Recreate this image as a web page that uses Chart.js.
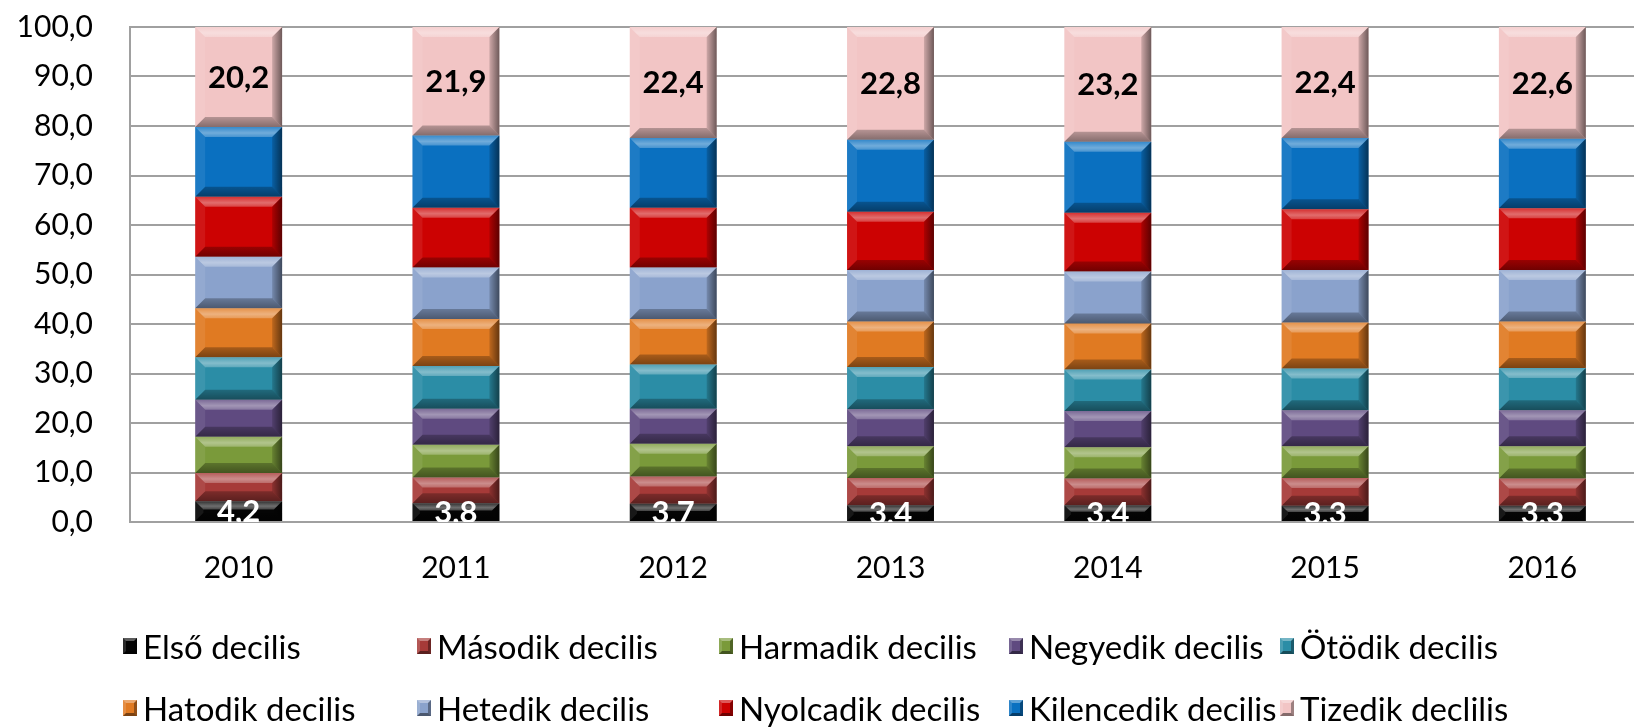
<!DOCTYPE html>
<html>
<head>
<meta charset="utf-8">
<script src="https://cdn.jsdelivr.net/npm/chart.js@4"></script>
<style>
  html, body { margin: 0; padding: 0; background: #fff; overflow: hidden; width: 1634px; height: 727px; }
  #wrap { position: absolute; left: 0; top: 0; width: 1651px; height: 727px; }
  #legend { position: absolute; left: 0; top: 0; width: 1634px; height: 727px; pointer-events: none; }
  .item { position: absolute; display: flex; align-items: center; height: 40px; font-family: Lato, sans-serif; font-size: 33px; color: #000; white-space: nowrap; }
  .mk { width: 14px; height: 16px; margin-right: 6px; box-sizing: border-box; border-style: solid; border-width: 3px 3px 3px 3px; }
</style>
</head>
<body>
<div id="wrap"><canvas id="c" width="1651" height="727"></canvas></div>
<div id="legend"></div>
<script>
const years = ['2010', '2011', '2012', '2013', '2014', '2015', '2016'];
const decileNames = ['Első decilis', 'Második decilis', 'Harmadik decilis', 'Negyedik decilis', 'Ötödik decilis',
                     'Hatodik decilis', 'Hetedik decilis', 'Nyolcadik decilis', 'Kilencedik decilis', 'Tizedik declilis'];
const yTicks = [0, 10, 20, 30, 40, 50, 60, 70, 80, 90, 100];

const d1  = [4.2, 3.8, 3.7, 3.4, 3.4, 3.3, 3.3];
const d2  = [5.7, 5.2, 5.5, 5.5, 5.4, 5.6, 5.5];
const d3  = [7.3, 6.6, 6.6, 6.4, 6.3, 6.4, 6.5];
const d4  = [7.5, 7.3, 7.1, 7.5, 7.3, 7.3, 7.3];
const d5  = [8.6, 8.6, 8.9, 8.5, 8.4, 8.4, 8.5];
const d6  = [9.9, 9.5, 9.2, 9.2, 9.3, 9.3, 9.4];
const d7  = [10.4, 10.4, 10.4, 10.4, 10.5, 10.6, 10.4];
const d8  = [12.1, 12.1, 12.1, 11.8, 11.9, 12.3, 12.5];
const d9  = [14.1, 14.6, 14.1, 14.5, 14.3, 14.4, 14.0];
const d10 = [20.2, 21.9, 22.4, 22.8, 23.2, 22.4, 22.6];

const seriesValues = [d1, d2, d3, d4, d5, d6, d7, d8, d9, d10];
const colors = ['#050505', '#A63A38', '#7A9A3A', '#5F4A80', '#2B8DA6', '#E07A22', '#8AA2CC', '#CC0202', '#0A70C0', '#F2C5C5'];

const fmt = v => v.toFixed(1).replace('.', ',');

const bevelPlugin = {
  id: 'bevel',
  afterDatasetsDraw(chart) {
    const ctx = chart.ctx;
    chart.data.datasets.forEach((ds, i) => {
      const meta = chart.getDatasetMeta(i);
      if (meta.hidden) return;
      meta.data.forEach(el => {
        const p = el.getProps(['x', 'y', 'base', 'width'], true);
        const l = p.x - p.width / 2, r = p.x + p.width / 2;
        const t = Math.min(p.y, p.base), b = Math.max(p.y, p.base);
        const h = b - t;
        const d = Math.min(10, h / 2.4);
        const poly = (pts, fill) => {
          ctx.beginPath();
          ctx.moveTo(pts[0][0], pts[0][1]);
          for (let k = 1; k < pts.length; k++) ctx.lineTo(pts[k][0], pts[k][1]);
          ctx.closePath();
          ctx.fillStyle = fill;
          ctx.fill();
        };
        ctx.save();
        const gt = ctx.createLinearGradient(0, t, 0, t + d);
        gt.addColorStop(0, 'rgba(255,255,255,0.18)');
        gt.addColorStop(0.6, 'rgba(255,255,255,0.42)');
        gt.addColorStop(1, 'rgba(255,255,255,0.25)');
        poly([[l, t], [r, t], [r - d, t + d], [l + d, t + d]], gt);
        const gb = ctx.createLinearGradient(0, b - d, 0, b);
        gb.addColorStop(0, 'rgba(0,0,0,0.25)');
        gb.addColorStop(1, 'rgba(0,0,0,0.45)');
        poly([[l, b], [r, b], [r - d, b - d], [l + d, b - d]], gb);
        poly([[l, t], [l + d, t + d], [l + d, b - d], [l, b]], 'rgba(255,255,255,0.08)');
        const gr = ctx.createLinearGradient(r - d, 0, r, 0);
        gr.addColorStop(0, 'rgba(0,0,0,0.15)');
        gr.addColorStop(1, 'rgba(0,0,0,0.55)');
        poly([[r, t], [r - d, t + d], [r - d, b - d], [r, b]], gr);
        ctx.restore();
      });
    });
  }
};

const labelPlugin = {
  id: 'seglabels',
  afterDatasetsDraw(chart) {
    const ctx = chart.ctx;
    const a = chart.chartArea;
    ctx.save();
    ctx.beginPath();
    ctx.rect(a.left, a.top, a.right - a.left, a.bottom - a.top);
    ctx.clip();
    ctx.font = 'bold 31px Lato, sans-serif';
    ctx.textAlign = 'center';
    ctx.textBaseline = 'middle';
    [[0, '#ffffff'], [9, '#000000']].forEach(([i, col]) => {
      const meta = chart.getDatasetMeta(i);
      meta.data.forEach((el, j) => {
        const p = el.getProps(['x', 'y', 'base'], true);
        ctx.fillStyle = col;
        ctx.fillText(fmt(chart.data.datasets[i].data[j]), p.x, (p.y + p.base) / 2 + 1);
      });
    });
    ctx.restore();
  }
};

const datasets = seriesValues.map((vals, i) => ({
  label: decileNames[i],
  data: vals,
  backgroundColor: colors[i],
  borderWidth: 0,
  barPercentage: 0.40,
  categoryPercentage: 1.0
}));

new Chart(document.getElementById('c'), {
  type: 'bar',
  data: { labels: years, datasets },
  plugins: [bevelPlugin, labelPlugin],
  options: {
    responsive: false,
    animation: false,
    devicePixelRatio: 1,
    layout: { padding: { top: 27, right: 0, bottom: 141, left: 0 } },
    plugins: { legend: { display: false }, tooltip: { enabled: false } },
    scales: {
      x: {
        stacked: true,
        afterFit: s => { s.height = 64; },
        grid: { display: false, drawTicks: false },
        border: { display: true, color: '#A0A0A0', width: 2 },
        ticks: { color: '#000', font: { family: 'Lato', size: 30 }, padding: 28, maxRotation: 0 }
      },
      y: {
        stacked: true,
        min: 0, max: 100,
        afterBuildTicks: s => { s.ticks = yTicks.map(v => ({ value: v })); },
        afterFit: s => { s.width = 130; },
        grid: { color: '#A0A0A0', lineWidth: 2, drawTicks: true, tickLength: 37, tickColor: 'rgba(0,0,0,0)' },
        border: { display: true, color: '#A0A0A0', width: 2 },
        ticks: { color: '#000', font: { family: 'Lato', size: 30 }, padding: 0, callback: v => fmt(v) }
      }
    }
  }
});

const legendCols = [123, 417, 719, 1009, 1280];
const legendRows = [646, 708];
const lg = document.getElementById('legend');
decileNames.forEach((name, i) => {
  const it = document.createElement('div');
  it.className = 'item';
  it.style.left = legendCols[i % 5] + 'px';
  it.style.top = (legendRows[Math.floor(i / 5)] - 20) + 'px';
  const mk = document.createElement('span');
  mk.className = 'mk';
  mk.style.background = colors[i];
  mk.style.borderColor = 'rgba(255,255,255,0.35) rgba(0,0,0,0.35) rgba(0,0,0,0.45) rgba(255,255,255,0.15)';
  const tx = document.createElement('span');
  tx.textContent = name;
  it.appendChild(mk);
  it.appendChild(tx);
  lg.appendChild(it);
});
</script>
</body>
</html>
